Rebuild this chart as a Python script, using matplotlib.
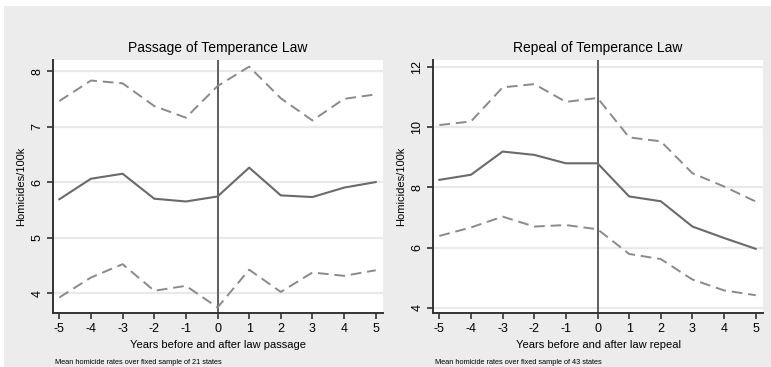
import matplotlib
matplotlib.use("Agg")
import matplotlib.pyplot as plt
from matplotlib.patches import Rectangle

plt.rcParams["font.family"] = ["Liberation Sans", "DejaVu Sans"]

years = [-5, -4, -3, -2, -1, 0, 1, 2, 3, 4, 5]

# passage of temperance law (21 states)
passage_mean = [5.69, 6.06, 6.15, 5.70, 5.65, 5.74, 6.26, 5.76, 5.73, 5.90, 6.00]
passage_upper = [7.46, 7.83, 7.78, 7.37, 7.16, 7.73, 8.08, 7.51, 7.11, 7.50, 7.58]
passage_lower = [3.92, 4.28, 4.52, 4.04, 4.13, 3.74, 4.42, 4.02, 4.37, 4.31, 4.41]

# repeal of temperance law (43 states)
repeal_mean = [8.25, 8.42, 9.19, 9.08, 8.80, 8.80, 7.70, 7.54, 6.70, 6.32, 5.96]
repeal_upper = [10.07, 10.19, 11.32, 11.43, 10.84, 10.97, 9.66, 9.53, 8.47, 8.03, 7.53]
repeal_lower = [6.39, 6.67, 7.03, 6.70, 6.75, 6.61, 5.79, 5.62, 4.94, 4.58, 4.42]

W, H = 771, 367
fig = plt.figure(figsize=(W / 100, H / 100), dpi=100)
fig.patch.set_facecolor("white")
# grey graph region, thin white edge on top/left like the scanned original
fig.add_artist(Rectangle((4 / W, 0), 1 - 4 / W, 1 - 6 / H,
                         transform=fig.transFigure, facecolor="#ececec",
                         edgecolor="none", zorder=-10))


def panel(rect, mean, upper, lower, title, ylim, yticks, xlabel, note):
    ax = fig.add_axes(rect)
    ax.set_facecolor("white")
    for y in yticks:
        ax.axhline(y, color="#e9e9e9", lw=1.6, zorder=0)
    ax.axvline(0, color="#5e5e5e", lw=1.4, zorder=1)
    ax.plot(years, upper, color="#8a8a8a", lw=1.4, ls=(0, (5.5, 3)), zorder=2)
    ax.plot(years, lower, color="#8a8a8a", lw=1.4, ls=(0, (5.5, 3)), zorder=2)
    ax.plot(years, mean, color="#6a6a6a", lw=1.5, zorder=3)
    ax.set_xlim(-5.2, 5.23)
    ax.set_ylim(*ylim)
    ax.set_xticks(years)
    ax.set_xticklabels([str(v) for v in years])
    ax.set_yticks(yticks)
    ax.set_yticklabels([str(v) for v in yticks], rotation=90, va="center")
    for s in ["top", "right"]:
        ax.spines[s].set_visible(False)
    for s in ["left", "bottom"]:
        ax.spines[s].set_color("#333333")
        ax.spines[s].set_linewidth(1.4)
    ax.tick_params(direction="out", length=4, width=1.2, color="#333333",
                   labelsize=9, pad=3)
    ax.set_title(title, fontsize=10, pad=6)
    ax.set_xlabel(xlabel, fontsize=8, labelpad=4)
    ax.set_ylabel("Homicides/100k", fontsize=8, labelpad=4)
    ax.text(0.005, -0.195, note, transform=ax.transAxes, fontsize=5.3,
            ha="left", va="center")
    return ax


panel([53 / W, 1 - 313 / H, 330 / W, 253 / H],
      passage_mean, passage_upper, passage_lower,
      "Passage of Temperance Law", (3.64, 8.2), [4, 5, 6, 7, 8],
      "Years before and after law passage",
      "Mean homicide rates over fixed sample of 21 states")

panel([433 / W, 1 - 313 / H, 330 / W, 253 / H],
      repeal_mean, repeal_upper, repeal_lower,
      "Repeal of Temperance Law", (3.83, 12.23), [4, 6, 8, 10, 12],
      "Years before and after law repeal",
      "Mean homicide rates over fixed sample of 43 states")

fig.savefig("out.png", dpi=100)
